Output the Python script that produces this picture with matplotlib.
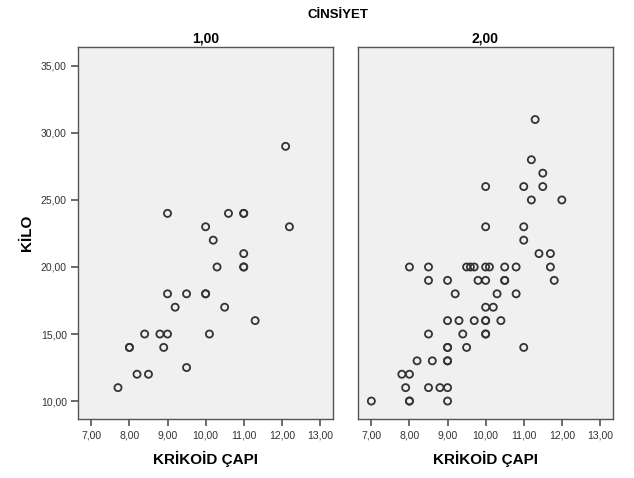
import matplotlib
matplotlib.use('Agg')
import matplotlib.pyplot as plt

# --- data (KRIKOID CAPI vs KILO, split by CINSIYET) ---
panel_titles = ['1,00', '2,00']

x_g1 = [12.1, 12.2, 9.0, 10.0, 10.6, 11.0, 11.0, 10.2, 11.0, 11.0,
        11.0, 10.3, 9.0, 9.5, 10.0, 10.0, 9.2, 10.5, 11.3, 8.4,
        8.8, 9.0, 10.1, 8.0, 8.0, 8.9, 9.5, 8.2, 8.5, 7.7]
y_g1 = [29, 23, 24, 23, 24, 24, 24, 22, 21, 20,
        20, 20, 18, 18, 18, 18, 17, 17, 16, 15,
        15, 15, 15, 14, 14, 14, 12.5, 12, 12, 11]

x_g2 = [11.3, 11.2, 11.5, 10.0, 11.0, 11.5, 11.2, 12.0, 10.0, 11.0,
        11.0, 11.4, 11.7,
        8.0, 8.5, 9.5, 9.6, 9.7, 10.0, 10.1, 10.5, 10.8, 11.7,
        8.5, 9.0, 9.8, 10.0, 10.5, 10.5, 11.8,
        9.2, 10.3, 10.8,
        10.0, 10.2,
        9.0, 9.3, 9.7, 10.0, 10.0, 10.4,
        8.5, 9.4, 10.0, 10.0,
        9.0, 9.0, 9.5, 11.0,
        8.2, 8.6, 9.0, 9.0,
        7.8, 8.0,
        7.9, 8.5, 8.8, 9.0,
        7.0, 8.0, 8.0, 9.0]
y_g2 = [31, 28, 27, 26, 26, 26, 25, 25, 23, 23,
        22, 21, 21,
        20, 20, 20, 20, 20, 20, 20, 20, 20, 20,
        19, 19, 19, 19, 19, 19, 19,
        18, 18, 18,
        17, 17,
        16, 16, 16, 16, 16, 16,
        15, 15, 15, 15,
        14, 14, 14, 14,
        13, 13, 13, 13,
        12, 12,
        11, 11, 11, 11,
        10, 10, 10, 10]

x_ticks = [7, 8, 9, 10, 11, 12, 13]
y_ticks = [10, 15, 20, 25, 30, 35]

plt.rcParams['font.family'] = ['Liberation Sans', 'DejaVu Sans']

fig = plt.figure(figsize=(6.34, 4.78), dpi=100)
ax1 = fig.add_axes([0.123, 0.1234, 0.402, 0.778])
ax2 = fig.add_axes([0.5647, 0.1234, 0.402, 0.778])

def fmt(v):
    return f'{v:.2f}'.replace('.', ',')

for ax, xs, ys, title in [(ax1, x_g1, y_g1, panel_titles[0]),
                          (ax2, x_g2, y_g2, panel_titles[1])]:
    ax.set_facecolor('#f0f0f0')
    ax.scatter(xs, ys, s=26, facecolors='none', edgecolors='#333333', linewidths=1.3, zorder=3)
    ax.set_xlim(6.65, 13.34)
    ax.set_ylim(8.66, 36.4)
    ax.set_xticks(x_ticks)
    ax.set_xticklabels([fmt(v) for v in x_ticks], fontsize=7.5, color='#333333')
    ax.set_title(title, fontsize=10, fontweight='bold', pad=3)
    ax.set_xlabel('KRİKOİD ÇAPI', fontsize=11, fontweight='bold', labelpad=8)
    for sp in ax.spines.values():
        sp.set_color('#555555')
        sp.set_linewidth(1.0)
    ax.tick_params(axis='x', direction='out', length=5, width=1.1, color='#444444', pad=3)

ax1.set_yticks(y_ticks)
ax1.set_yticklabels([fmt(v) for v in y_ticks], fontsize=7.5, color='#333333')
ax1.tick_params(axis='y', direction='out', length=5, width=1.1, color='#444444', pad=3)
ax1.set_ylabel('KİLO', fontsize=11, fontweight='bold', labelpad=5)

ax2.set_yticks([])

fig.text(0.533, 0.968, 'CİNSİYET', ha='center', va='center', fontsize=9.5, fontweight='bold')

fig.savefig('out.png', dpi=100)
